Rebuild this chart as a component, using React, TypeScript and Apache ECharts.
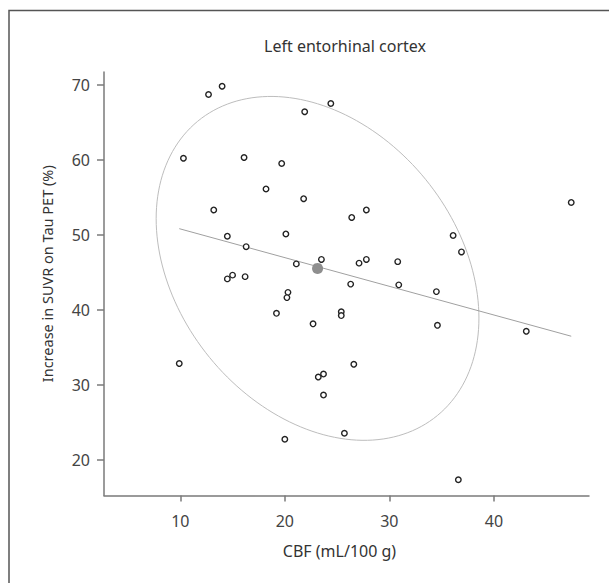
import React, { useEffect, useRef } from "react";
import * as echarts from "echarts";

// CBF (mL/100 g) per subject
const cbf = [
  12.7, 14.0, 24.4, 21.9, 10.3, 16.1, 19.7, 18.2, 21.8, 13.2, 27.8, 26.4, 47.4, 14.5, 20.1,
  36.1, 16.3, 36.9, 23.5, 27.8, 27.1, 30.8, 21.1, 14.5, 15.0, 16.2, 26.3, 30.9, 34.5, 20.3,
  20.2, 19.2, 25.4, 25.4, 22.7, 34.6, 43.1, 9.9, 26.6, 23.7, 23.2, 23.7, 25.7, 20.0, 36.6,
];
// Increase in SUVR on Tau PET (%) per subject
const tauIncrease = [
  68.7, 69.8, 67.5, 66.4, 60.2, 60.3, 59.5, 56.1, 54.8, 53.3, 53.3, 52.3, 54.3, 49.8, 50.1,
  49.9, 48.4, 47.7, 46.7, 46.7, 46.2, 46.4, 46.1, 44.1, 44.6, 44.4, 43.4, 43.3, 42.4, 42.3,
  41.6, 39.5, 39.7, 39.2, 38.1, 37.9, 37.1, 32.8, 32.7, 31.4, 31.0, 28.6, 23.5, 22.7, 17.3,
];

// regression line end points
const fitLine = [
  [9.9, 50.8],
  [47.4, 36.45],
];
// mean point
const centroid = [23.13, 45.5];
// confidence ellipse: half-widths along x and y (data units) and correlation
const ellipseHalfX = 15.44;
const ellipseHalfY = 22.94;
const ellipseCorr = -0.289;

const xTicks = [10, 20, 30, 40];
const yTicks = [20, 30, 40, 50, 60, 70];

const FONT = "'Noto Sans', 'Open Sans', sans-serif";

export default function App() {
  const ref = useRef<HTMLDivElement>(null);

  useEffect(() => {
    if (!ref.current) return;
    const chart = echarts.init(ref.current, undefined, { renderer: "svg" });
    const points = cbf.map((x, i) => [x, tauIncrease[i]]);

    const option: any = {
      animation: false,
      backgroundColor: "#fff",
      title: {
        text: "Left entorhinal cortex",
        left: 340,
        textAlign: "center",
        top: 33,
        textStyle: { fontFamily: FONT, fontSize: 16, fontWeight: "normal", color: "#333" },
      },
      graphic: [
        {
          type: "rect",
          z: -10,
          silent: true,
          shape: { x: 9, y: 10.5, width: 1000, height: 1000 },
          style: { fill: "none", stroke: "#555", lineWidth: 1.5 },
        },
      ],
      grid: { left: 104, right: 20, top: 72, bottom: 87.5, containLabel: false, outerBoundsMode: "none" },
      xAxis: {
        type: "value",
        min: 2.7,
        max: 49.1,
        name: "CBF (mL/100 g)",
        nameLocation: "middle",
        nameGap: 47,
        nameTextStyle: { fontFamily: FONT, fontSize: 16, color: "#333", padding: [0, 14, 0, 0] },
        axisLine: { show: true, onZero: false, lineStyle: { color: "#7a7a7a", width: 1.5 } },
        axisTick: { show: true, length: 6, customValues: xTicks, lineStyle: { color: "#7a7a7a", width: 1.5 } },
        axisLabel: { customValues: xTicks, margin: 17, fontFamily: FONT, fontSize: 16, color: "#444" },
        splitLine: { show: false },
      },
      yAxis: {
        type: "value",
        min: 15.2,
        max: 71.7,
        name: "Increase in SUVR on Tau PET (%)",
        nameLocation: "middle",
        nameGap: 50,
        nameTextStyle: { fontFamily: FONT, fontSize: 14.5, color: "#333", padding: [0, 0, 0, 20] },
        axisLine: { show: true, onZero: false, lineStyle: { color: "#7a7a7a", width: 1.5 } },
        axisTick: { show: true, length: 7, customValues: yTicks, lineStyle: { color: "#7a7a7a", width: 1.5 } },
        axisLabel: { customValues: yTicks, margin: 14, fontFamily: FONT, fontSize: 16, color: "#444" },
        splitLine: { show: false },
      },
      series: [
        {
          type: "custom",
          silent: true,
          z: 1,
          data: [centroid],
          renderItem: (_params: any, api: any) => {
            const pts: number[][] = [];
            const cx = api.value(0);
            const cy = api.value(1);
            const s = Math.sqrt(1 - ellipseCorr * ellipseCorr);
            for (let k = 0; k <= 180; k++) {
              const t = (k / 180) * Math.PI * 2;
              const dx = ellipseHalfX * Math.cos(t);
              const dy = ellipseHalfY * (ellipseCorr * Math.cos(t) + s * Math.sin(t));
              pts.push(api.coord([cx + dx, cy + dy]));
            }
            return {
              type: "polygon",
              shape: { points: pts },
              style: { fill: "none", stroke: "#bdbdbd", lineWidth: 1 },
            };
          },
        },
        {
          type: "line",
          data: fitLine,
          symbol: "none",
          silent: true,
          z: 2,
          lineStyle: { color: "#a0a0a0", width: 1 },
        },
        {
          type: "scatter",
          data: points,
          symbol: "circle",
          symbolSize: 5.5,
          z: 3,
          itemStyle: { color: "#fff", borderColor: "#222", borderWidth: 1.4, opacity: 1 },
        },
        {
          type: "scatter",
          data: [centroid],
          symbol: "circle",
          symbolSize: 11,
          z: 4,
          itemStyle: { color: "#8e8e8e", opacity: 1 },
        },
      ],
    };
    chart.setOption(option);
    return () => chart.dispose();
  }, []);

  return (
    <div
      ref={ref}
      style={{ position: "absolute", left: 0, top: 0, width: 609, height: 583 }}
    />
  );
}
